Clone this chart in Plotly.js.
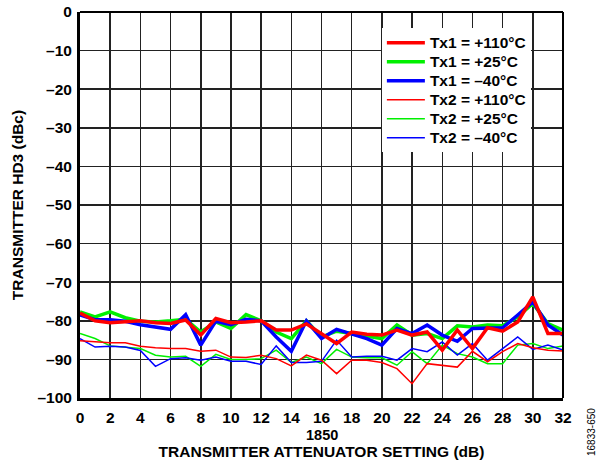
<!DOCTYPE html>
<html><head><meta charset="utf-8">
<script src="https://cdn.plot.ly/plotly-3.0.1.min.js"></script>
<style>html,body{margin:0;padding:0;background:#fff}#chart{width:600px;height:463px}</style>
</head><body><div id="chart"></div>
<script>
const atten = [0,1,2,3,4,5,6,7,8,9,10,11,12,13,14,15,16,17,18,19,20,21,22,23,24,25,26,27,28,29,30,31,32];
const tx1_110 = [-78,-80,-80.5,-80.3,-80,-80.5,-80.7,-79.8,-83.7,-79.4,-80.5,-80.3,-80,-82.4,-82.4,-80.8,-83.3,-85.9,-82.9,-83.5,-83.7,-82.4,-83.7,-82.9,-87.6,-82.4,-87.2,-81.8,-82.7,-80.3,-73.8,-83.3,-83.3];
const tx1_25 = [-77.7,-79,-77.7,-79.2,-80.1,-80.3,-80,-79.6,-82.9,-80.3,-82,-78.4,-80,-82.9,-84.6,-80,-84.2,-82.7,-83.3,-84,-84.6,-81.1,-83.7,-83.3,-84.6,-81.3,-81.6,-81.1,-81.3,-79,-75.5,-80.7,-82.4];
const tx1_m40 = [-78.5,-79.7,-79.7,-80.1,-81,-81.7,-82.2,-78.4,-86.3,-80.1,-81,-79.6,-80,-84.2,-87.9,-80,-84.6,-82.2,-83.3,-84.6,-86.3,-82,-83.3,-81.1,-83.7,-85.3,-82,-82,-81.8,-78.5,-75.1,-81.1,-83.7];
const tx2_110 = [-85.2,-85.5,-85.7,-85.7,-86.6,-87,-87.2,-87.2,-87.9,-87.6,-89.4,-89.5,-88.9,-89.8,-91.7,-88.9,-90.2,-93.7,-90.2,-90.2,-90.8,-92.4,-96.3,-91.1,-91.5,-92,-87.9,-90.6,-88,-85.9,-87,-87.6,-87.8];
const tx2_25 = [-83.3,-84.6,-86.5,-86.8,-87.2,-88.9,-89.4,-89.2,-91.8,-88.7,-90,-90,-89.8,-87.6,-90.8,-89.4,-91.1,-87.4,-89.4,-89.6,-89.6,-91.5,-88,-91.1,-86.3,-88.5,-89.4,-91.1,-91.1,-86.3,-85.9,-87.2,-86.5];
const tx2_m40 = [-84.6,-86.8,-86.6,-86.8,-87.7,-91.8,-89.8,-89.6,-90.2,-89.4,-90.5,-90.5,-91.3,-86.5,-90.8,-90.8,-90.5,-85,-89.4,-89.2,-89.2,-90.2,-87.2,-88,-85.5,-88.9,-85.9,-90.2,-87.2,-84.2,-87.4,-86.3,-87.6];
const names = ["Tx1 = +110°C","Tx1 = +25°C","Tx1 = –40°C","Tx2 = +110°C","Tx2 = +25°C","Tx2 = –40°C"];
const xTicks = [0,2,4,6,8,10,12,14,16,18,20,22,24,26,28,30,32];
const yTicks = [0,-10,-20,-30,-40,-50,-60,-70,-80,-90,-100];
const yTickText = ["0","–10","–20","–30","–40","–50","–60","–70","–80","–90","–100"];

const RED="#ff0000", GREEN="#00f000", BLUE="#0000ff";
function tr(y,name,color,w,rank){return {x:atten,y:y,name:'<span style="font-size:15.5px">'+name+'</span>',type:"scatter",mode:"lines",line:{color:color,width:w},legendrank:rank};}
const data = [
  tr(tx2_25,names[4],GREEN,1.5,5),
  tr(tx2_m40,names[5],BLUE,1.5,6),
  tr(tx2_110,names[3],RED,1.5,4),
  tr(tx1_25,names[1],GREEN,3.5,2),
  tr(tx1_m40,names[2],BLUE,3.5,3),
  tr(tx1_110,names[0],RED,3.5,1)
];
const F = "Arial, 'Liberation Sans', sans-serif";
const FS = 15.5;
const layout = {
  width:600,height:463,
  margin:{l:80,r:37,t:12,b:65},
  paper_bgcolor:"#fff",plot_bgcolor:"#fff",
  font:{family:F,size:FS,color:"#000"},
  showlegend:true,
  legend:{x:0.625,y:0.958,xanchor:"left",yanchor:"top",bgcolor:"#fff",borderwidth:0,
    font:{family:F,size:12.3,color:"#000",weight:"bold"},tracegroupgap:0,itemwidth:38},
  xaxis:{range:[0,32],tickvals:xTicks,ticktext:xTicks.map(String),showgrid:true,gridcolor:"#222",gridwidth:1.5,
    showline:true,linecolor:"#000",linewidth:3,mirror:false,zeroline:false,ticks:"",ticklabelstandoff:3,
    tickfont:{family:F,size:FS,weight:"bold"},
    title:{text:"TRANSMITTER ATTENUATOR SETTING (dB)",font:{family:F,size:FS,weight:"bold"},standoff:22}},
  yaxis:{range:[-100,0],tickvals:yTicks,ticktext:yTickText,showgrid:true,gridcolor:"#222",gridwidth:1.5,
    showline:true,linecolor:"#000",linewidth:3,mirror:false,zeroline:false,ticks:"",ticklabelstandoff:2,
    tickfont:{family:F,size:FS,weight:"bold"},
    title:{text:"TRANSMITTER HD3 (dBc)",font:{family:F,size:FS,weight:"bold"},standoff:10}},
  shapes:[
    {type:"line",xref:"paper",yref:"paper",x0:0,x1:1,y0:1,y1:1,line:{color:"#000",width:2}},
    {type:"line",xref:"paper",yref:"paper",x0:1,x1:1,y0:0,y1:1,line:{color:"#000",width:2}}
  ],
  annotations:[
    {x:16,y:0,xref:"x",yref:"paper",yanchor:"middle",yshift:-37,borderpad:0,text:"1850",showarrow:false,font:{family:F,size:14.5,weight:"bold"}},
    {x:1,y:0,xref:"paper",yref:"paper",xanchor:"center",yanchor:"middle",xshift:28,yshift:-34,text:"16833-650",textangle:-90,showarrow:false,font:{family:F,size:10,color:"#000"}}
  ]
};
Plotly.newPlot("chart",data,layout,{displayModeBar:false,staticPlot:true});
</script></body></html>
